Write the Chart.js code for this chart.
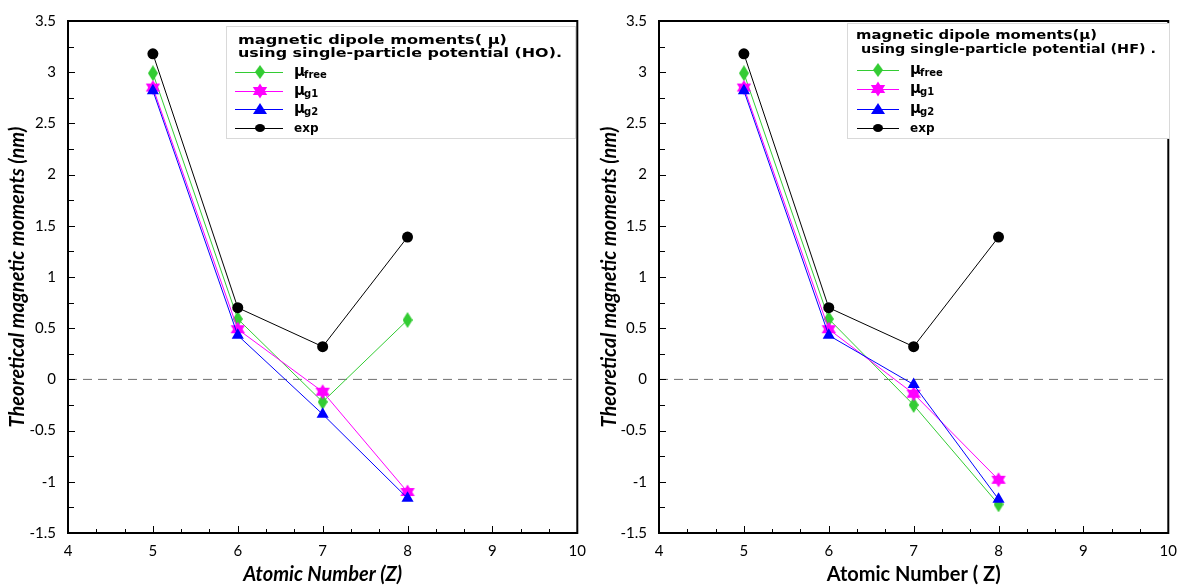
<!DOCTYPE html>
<html>
<head>
<meta charset="utf-8">
<script src="https://cdn.jsdelivr.net/npm/chart.js@4.4.1/dist/chart.umd.min.js"></script>
<style>
  html, body { margin: 0; padding: 0; background: #ffffff; }
  #wrap { position: relative; width: 1186px; height: 588px; overflow: hidden; background: #fff; }
  .panel { position: absolute; top: 0; height: 588px; }
  #p1 { left: 0; width: 595px; }
  #p2 { left: 595px; width: 591px; }
</style>
</head>
<body>
<div id="wrap">
  <div class="panel" id="p1"><canvas id="c1" width="595" height="588"></canvas></div>
  <div class="panel" id="p2"><canvas id="c2" width="591" height="588"></canvas></div>
</div>
<script>
// ---------- data ----------
const atomicNumbers = [5, 6, 7, 8];
const expValues = [3.18, 0.70, 0.32, 1.39];
// HO single-particle potential
const hoFree = [2.99, 0.59, -0.22, 0.58];
const hoG1   = [2.85, 0.49, -0.12, -1.10];
const hoG2   = [2.82, 0.43, -0.34, -1.16];
// HF single-particle potential
const hfFree = [2.99, 0.59, -0.25, -1.22];
const hfG1   = [2.85, 0.49, -0.14, -0.98];
const hfG2   = [2.82, 0.43, -0.05, -1.17];
// axes
const xTickValues = [4, 5, 6, 7, 8, 9, 10];
const yTickValues = [-1.5, -1, -0.5, 0, 0.5, 1, 1.5, 2, 2.5, 3, 3.5];
const zeroLineX = [4, 10];
const zeroLineY = [0, 0];
const seriesLabels = ['free', 'g1', 'g2', 'exp'];

// ---------- marker images ----------
function diamondImg(color) {
  const c = document.createElement('canvas'); c.width = 10; c.height = 16;
  const g = c.getContext('2d');
  g.fillStyle = color; g.beginPath();
  g.moveTo(5, 0); g.lineTo(10, 8); g.lineTo(5, 16); g.lineTo(0, 8); g.closePath(); g.fill();
  return c;
}
function starImg(color) {
  const c = document.createElement('canvas'); c.width = 16; c.height = 16;
  const g = c.getContext('2d');
  g.fillStyle = color;
  g.beginPath(); g.moveTo(8, 0.5); g.lineTo(15.2, 12); g.lineTo(0.8, 12); g.closePath(); g.fill();
  g.beginPath(); g.moveTo(8, 15.5); g.lineTo(15.2, 4); g.lineTo(0.8, 4); g.closePath(); g.fill();
  return c;
}
const GREEN = '#33cc33', MAGENTA = '#ff00ff', BLUE = '#0000ff', BLACK = '#000000';
const imgDiamond = diamondImg(GREEN);
const imgStar = starImg(MAGENTA);

function pts(xs, ys) { return xs.map((x, i) => ({ x: x, y: ys[i] })); }

function makeDatasets(free, g1, g2) {
  return [
    { label: seriesLabels[3], data: pts(atomicNumbers, expValues), borderColor: BLACK, backgroundColor: BLACK,
      borderWidth: 1, pointStyle: 'circle', pointRadius: 5.5, pointBorderWidth: 0, order: 0, legendStyle: 'circle' },
    { label: seriesLabels[2], data: pts(atomicNumbers, g2), borderColor: BLUE, backgroundColor: BLUE,
      borderWidth: 1, pointStyle: 'triangle', pointRadius: 7, pointBorderWidth: 0, order: 1, legendStyle: 'triangle' },
    { label: seriesLabels[1], data: pts(atomicNumbers, g1), borderColor: MAGENTA, backgroundColor: MAGENTA,
      borderWidth: 1, pointStyle: imgStar, pointRadius: 8, order: 2, legendStyle: 'star' },
    { label: seriesLabels[0], data: pts(atomicNumbers, free), borderColor: GREEN, backgroundColor: GREEN,
      borderWidth: 1, pointStyle: imgDiamond, pointRadius: 8, order: 3, legendStyle: 'diamond' },
    { label: '', data: pts(zeroLineX, zeroLineY), borderColor: '#6f6f6f', borderWidth: 1, borderDash: [9, 6],
      pointRadius: 0, order: 5, isZero: true }
  ];
}

// ---------- plugins ----------
const frameTicks = {
  id: 'frameTicks',
  afterDatasetsDraw(chart) {
    const { ctx, chartArea: a, scales: { x, y } } = chart;
    ctx.save();
    ctx.strokeStyle = '#000'; ctx.lineWidth = 1;
    ctx.beginPath();
    for (let k = 1; k < 20; k++) {
      const v = y.min + k * 0.25;
      const py = Math.round(y.getPixelForValue(v)) + 0.5;
      const len = (k % 2 === 0) ? 7 : 6;
      ctx.moveTo(a.left, py); ctx.lineTo(a.left + len, py);
    }
    for (let k = 1; k < 18; k++) {
      const v = x.min + k / 3;
      const px = Math.round(x.getPixelForValue(v)) + 0.5;
      const len = (k % 3 === 0) ? 7 : 4;
      ctx.moveTo(px, a.bottom); ctx.lineTo(px, a.bottom - len);
    }
    ctx.stroke();
    ctx.lineWidth = 2;
    ctx.strokeRect(a.left, a.top, a.right - a.left, a.bottom - a.top);
    ctx.restore();
  }
};

function drawStretched(ctx, text, x, y, font, targetW) {
  ctx.font = font;
  const w = ctx.measureText(text).width;
  ctx.save();
  ctx.translate(x, y);
  ctx.scale(targetW / w, 1);
  ctx.fillText(text, 0, 0);
  ctx.restore();
}

const boxLegend = {
  id: 'boxLegend',
  afterDraw(chart, args, o) {
    const ctx = chart.ctx;
    ctx.save();
    ctx.fillStyle = '#fff';
    ctx.fillRect(o.box[0], o.box[1], o.box[2], o.box[3]);
    ctx.strokeStyle = '#d9d9d9'; ctx.lineWidth = 1;
    ctx.strokeRect(o.box[0] + 0.5, o.box[1] + 0.5, o.box[2], o.box[3]);
    ctx.fillStyle = '#000'; ctx.textBaseline = 'middle'; ctx.textAlign = 'left';
    o.title.forEach((t, i) => drawStretched(ctx, t.text, t.x, t.y, o.titleFont, t.w));
    const ds = chart.data.datasets.filter(d => !d.isZero);
    const order = ['free', 'g1', 'g2', 'exp'];
    order.forEach((lab, i) => {
      const d = ds.find(q => q.label === lab);
      const yy = o.rowsY[i];
      ctx.strokeStyle = d.borderColor; ctx.lineWidth = 1;
      ctx.beginPath(); ctx.moveTo(o.lineX[0], yy + 0.5); ctx.lineTo(o.lineX[1], yy + 0.5); ctx.stroke();
      const mx = o.markX;
      ctx.fillStyle = d.backgroundColor;
      if (d.legendStyle === 'circle') {
        ctx.beginPath(); ctx.ellipse(mx, yy, 5, 4, 0, 0, Math.PI * 2); ctx.fill();
      } else if (d.legendStyle === 'triangle') {
        ctx.beginPath(); ctx.moveTo(mx, yy - 6); ctx.lineTo(mx + 7, yy + 5); ctx.lineTo(mx - 7, yy + 5); ctx.closePath(); ctx.fill();
      } else if (d.legendStyle === 'star') {
        ctx.drawImage(imgStar, mx - 8, yy - 8);
      } else if (d.legendStyle === 'diamond') {
        ctx.drawImage(imgDiamond, mx - 5, yy - 7, 10, 14);
      }
      ctx.fillStyle = '#000';
      if (lab === 'exp') {
        ctx.font = 'bold 12px "DejaVu Sans"';
        ctx.fillText('exp', o.textX, yy + 1);
      } else {
        ctx.font = 'bold 15px "DejaVu Sans"';
        ctx.fillText('\u03bc', o.textX, yy);
        const mw = ctx.measureText('\u03bc').width;
        ctx.font = 'bold 10px "DejaVu Sans"';
        ctx.fillText(lab, o.textX + mw - 1, yy + 3);
      }
    });
    ctx.restore();
  }
};

function makeChart(canvasId, datasets, cfg) {
  return new Chart(document.getElementById(canvasId), {
    type: 'line',
    data: { datasets: datasets },
    plugins: [frameTicks, boxLegend],
    options: {
      responsive: false,
      animation: false,
      events: [],
      layout: { padding: { top: 16, right: cfg.padRight, bottom: 0, left: 0 } },
      plugins: {
        legend: { display: false },
        tooltip: { enabled: false },
        boxLegend: cfg.legend
      },
      scales: {
        x: {
          type: 'linear', position: 'bottom', min: 4, max: 10,
          afterFit(s) { s.height = 55; },
          afterBuildTicks(s) { s.ticks = xTickValues.map(v => ({ value: v })); },
          grid: { display: false, drawTicks: false },
          border: { display: false },
          ticks: { color: '#000', padding: 9, font: { family: 'Lato', size: 15 }, maxRotation: 0,
                   callback: v => String(v) },
          title: { display: true, text: cfg.xTitle, color: '#000',
                   font: { family: 'Lato', size: 20, weight: 'bold', style: cfg.xItalic ? 'italic' : 'normal' },
                   padding: { top: 0, bottom: 1 } }
        },
        y: {
          type: 'linear', min: -1.5, max: 3.5,
          afterFit(s) { s.width = cfg.yWidth; },
          afterBuildTicks(s) { s.ticks = yTickValues.map(v => ({ value: v })); },
          grid: { display: false, drawTicks: false },
          border: { display: false },
          ticks: { color: '#000', padding: 12, font: { family: 'Lato', size: 15 }, callback: v => String(v) },
          title: { display: true, text: 'Theoretical magnetic moments (nm)', color: '#000',
                   font: { family: 'Lato', size: 20, weight: 'bold', style: 'italic' },
                   padding: { top: cfg.yTitlePad, bottom: 0 } }
        }
      }
    }
  });
}

makeChart('c1', makeDatasets(hoFree, hoG1, hoG2), {
  padRight: 10, yWidth: 68, yTitlePad: 6, xTitle: 'Atomic Number (Z)', xItalic: true,
  legend: {
    box: [226, 26, 349, 112],
    titleFont: 'bold 13px "DejaVu Sans"',
    title: [
      { text: 'magnetic dipole moments( \u03bc)', x: 238, y: 41, w: 269 },
      { text: 'using single-particle potential (HO).', x: 238, y: 54, w: 324 }
    ],
    rowsY: [72, 91, 109, 128], lineX: [235, 283], markX: 260, textX: 294
  }
});

makeChart('c2', makeDatasets(hfFree, hfG1, hfG2), {
  padRight: 11, yWidth: 64, yTitlePad: 3, xTitle: 'Atomic Number ( Z)', xItalic: false,
  legend: {
    box: [847 - 595, 23, 1169 - 847, 115],
    titleFont: 'bold 13px "DejaVu Sans"',
    title: [
      { text: 'magnetic dipole moments(\u03bc)', x: 856 - 595, y: 36, w: 241 },
      { text: ' using single-particle potential (HF) .', x: 856 - 595, y: 50, w: 300 }
    ],
    rowsY: [70, 89, 109, 128], lineX: [857 - 595, 899 - 595], markX: 878 - 595, textX: 910 - 595
  }
});
</script>
</body>
</html>
